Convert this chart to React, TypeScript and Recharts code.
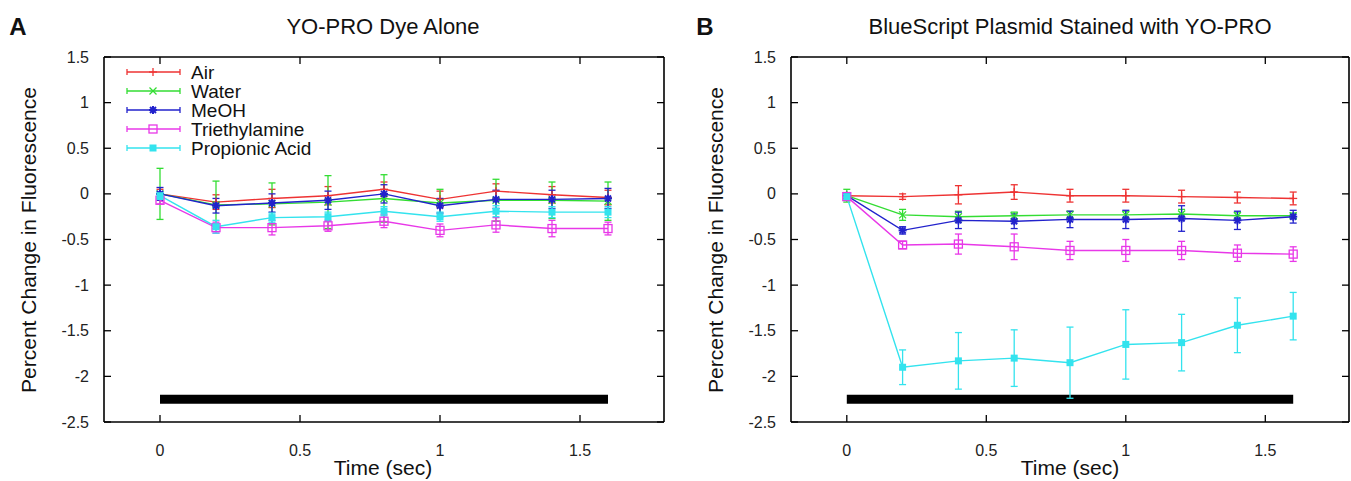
import React from "react";
import { LineChart, Line, XAxis, YAxis, ErrorBar, ReferenceArea } from "recharts";

const times = [0, 0.2, 0.4, 0.6, 0.8, 1.0, 1.2, 1.4, 1.6];
const seriesNames = ["Air", "Water", "MeOH", "Triethylamine", "Propionic Acid"];
const seriesColors = ["#ee3333", "#33dd33", "#2222cc", "#e838e8", "#33e3ee"];
const seriesMarkers = ["plus", "cross", "star", "openSquare", "square"];
const xTicks = [0, 0.5, 1, 1.5];
const yTicks = [-2.5, -2, -1.5, -1, -0.5, 0, 0.5, 1, 1.5];
const xDomain = [-0.2, 1.8];
const yDomain = [-2.5, 1.5];

// stimulus bar
const barStart = 0;
const barEnd = 1.6;
const barTop = -2.2;
const barBottom = -2.3;

// A: YO-PRO dye alone
const dyeAir = [0, -0.09, -0.05, -0.02, 0.05, -0.06, 0.03, -0.01, -0.04];
const dyeAirErr = [0.05, 0.08, 0.1, 0.1, 0.08, 0.09, 0.08, 0.09, 0.08];
const dyeWater = [0, -0.12, -0.11, -0.09, -0.05, -0.1, -0.07, -0.07, -0.08];
const dyeWaterErr = [0.28, 0.26, 0.23, 0.29, 0.26, 0.15, 0.23, 0.2, 0.21];
const dyeMeoh = [0, -0.13, -0.1, -0.07, 0, -0.13, -0.06, -0.06, -0.05];
const dyeMeohErr = [0.07, 0.08, 0.1, 0.1, 0.1, 0.08, 0.1, 0.1, 0.11];
const dyeTri = [-0.07, -0.37, -0.37, -0.35, -0.3, -0.4, -0.34, -0.38, -0.38];
const dyeTriErr = [0.04, 0.06, 0.08, 0.06, 0.07, 0.07, 0.08, 0.09, 0.07];
const dyeProp = [-0.02, -0.36, -0.26, -0.25, -0.19, -0.25, -0.19, -0.2, -0.2];
const dyePropErr = [0.04, 0.07, 0.05, 0.05, 0.05, 0.05, 0.06, 0.06, 0.06];

// B: BlueScript plasmid stained with YO-PRO
const plasAir = [-0.02, -0.03, -0.01, 0.02, -0.02, -0.02, -0.03, -0.04, -0.05];
const plasAirErr = [0.03, 0.03, 0.1, 0.08, 0.07, 0.07, 0.07, 0.06, 0.07];
const plasWater = [-0.02, -0.23, -0.25, -0.24, -0.23, -0.23, -0.22, -0.24, -0.24];
const plasWaterErr = [0.07, 0.06, 0.06, 0.04, 0.04, 0.04, 0.05, 0.04, 0.03];
const plasMeoh = [-0.02, -0.4, -0.29, -0.3, -0.28, -0.28, -0.27, -0.29, -0.25];
const plasMeohErr = [0.03, 0.04, 0.09, 0.08, 0.09, 0.1, 0.14, 0.1, 0.07];
const plasTri = [-0.03, -0.56, -0.55, -0.58, -0.62, -0.62, -0.62, -0.65, -0.66];
const plasTriErr = [0.03, 0.04, 0.11, 0.14, 0.1, 0.12, 0.1, 0.09, 0.08];
const plasProp = [-0.03, -1.9, -1.83, -1.8, -1.85, -1.65, -1.63, -1.44, -1.34];
const plasPropErr = [0.04, 0.19, 0.31, 0.31, 0.39, 0.38, 0.31, 0.3, 0.26];

const keys = ["air", "water", "meoh", "tri", "prop"];

function buildRows(vals: number[][], errs: number[][]) {
  return times.map((t, i) => {
    const row: any = { t };
    keys.forEach((k, s) => {
      row[k] = vals[s][i];
      row[k + "Err"] = errs[s][i];
    });
    return row;
  });
}

const dyeRows = buildRows(
  [dyeAir, dyeWater, dyeMeoh, dyeTri, dyeProp],
  [dyeAirErr, dyeWaterErr, dyeMeohErr, dyeTriErr, dyePropErr]
);
const plasRows = buildRows(
  [plasAir, plasWater, plasMeoh, plasTri, plasProp],
  [plasAirErr, plasWaterErr, plasMeohErr, plasTriErr, plasPropErr]
);

const FONT = '"Liberation Sans", Arial, Helvetica, sans-serif';
const CHART_H = 481;
const M_TOP = 57;
const M_BOTTOM = 29;
const M_LEFT = 44;
const Y_AXIS_W = 60;
const X_AXIS_H = 30;
const TICK = 7;

const panelA = { offset: 0, width: 680, marginRight: 16 };
const panelB = { offset: 687, width: 664, marginRight: 2 };

function Marker({ kind, cx, cy, color }: { kind: string; cx: number; cy: number; color: string }) {
  if (cx == null || cy == null) return null;
  const s = 4;
  if (kind === "plus")
    return (
      <g stroke={color} strokeWidth={1.3}>
        <line x1={cx - s} x2={cx + s} y1={cy} y2={cy} />
        <line x1={cx} x2={cx} y1={cy - s} y2={cy + s} />
      </g>
    );
  if (kind === "cross")
    return (
      <g stroke={color} strokeWidth={1.3}>
        <line x1={cx - 3.5} x2={cx + 3.5} y1={cy - 3.5} y2={cy + 3.5} />
        <line x1={cx - 3.5} x2={cx + 3.5} y1={cy + 3.5} y2={cy - 3.5} />
      </g>
    );
  if (kind === "star")
    return (
      <g stroke={color} strokeWidth={2}>
        <line x1={cx - s} x2={cx + s} y1={cy} y2={cy} />
        <line x1={cx} x2={cx} y1={cy - s} y2={cy + s} />
        <line x1={cx - 3} x2={cx + 3} y1={cy - 3} y2={cy + 3} />
        <line x1={cx - 3} x2={cx + 3} y1={cy + 3} y2={cy - 3} />
      </g>
    );
  if (kind === "openSquare")
    return <rect x={cx - 4} y={cy - 4} width={8} height={8} fill="none" stroke={color} strokeWidth={1.3} />;
  return <rect x={cx - 3.5} y={cy - 3.5} width={7} height={7} fill={color} />;
}

function LeftTick({ x, y, payload }: any) {
  return (
    <text x={x} y={y} dy="0.35em" textAnchor="end" fontSize={16} fontFamily={FONT} fill="#222">
      {payload.value}
    </text>
  );
}

function BottomTick({ x, y, payload }: any) {
  return (
    <text x={x} y={y + 28} dy="0.35em" textAnchor="middle" fontSize={16} fontFamily={FONT} fill="#222">
      {payload.value}
    </text>
  );
}

// gnuplot-style box with inward, mirrored ticks (drawn in the page overlay)
function Frame({ offset, width, marginRight }: { offset: number; width: number; marginRight: number }) {
  const left = offset + M_LEFT + Y_AXIS_W;
  const top = M_TOP;
  const w = width - M_LEFT - Y_AXIS_W - marginRight;
  const h = CHART_H - M_TOP - M_BOTTOM - X_AXIS_H;
  const px = (v: number) => left + ((v - xDomain[0]) / (xDomain[1] - xDomain[0])) * w;
  const py = (v: number) => top + ((yDomain[1] - v) / (yDomain[1] - yDomain[0])) * h;
  return (
    <g>
      <line x1={left} x2={left + w} y1={top} y2={top} stroke="#000" strokeWidth={1.6} />
      <line x1={left} x2={left + w} y1={top + h} y2={top + h} stroke="#000" strokeWidth={1.6} />
      <line x1={left} x2={left} y1={top} y2={top + h} stroke="#000" strokeWidth={1.6} />
      <line x1={left + w} x2={left + w} y1={top} y2={top + h} stroke="#000" strokeWidth={1.6} />
      {xTicks.map((t) => (
        <g key={"x" + t}>
          <line x1={px(t)} x2={px(t)} y1={top + h} y2={top + h - TICK} stroke="#000" strokeWidth={1.3} />
          <line x1={px(t)} x2={px(t)} y1={top} y2={top + TICK} stroke="#000" strokeWidth={1.3} />
        </g>
      ))}
      {yTicks.map((v) => (
        <g key={"y" + v}>
          <line x1={left} x2={left + TICK} y1={py(v)} y2={py(v)} stroke="#000" strokeWidth={1.3} />
          <line x1={left + w} x2={left + w - TICK} y1={py(v)} y2={py(v)} stroke="#000" strokeWidth={1.3} />
        </g>
      ))}
    </g>
  );
}

function Panel({ rows, width, marginRight }: { rows: any[]; width: number; marginRight: number }) {
  return (
    <LineChart
      width={width}
      height={CHART_H}
      data={rows}
      margin={{ top: M_TOP, right: marginRight, bottom: M_BOTTOM, left: M_LEFT }}
    >
      <XAxis
        dataKey="t"
        type="number"
        domain={xDomain}
        ticks={xTicks}
        height={X_AXIS_H}
        tickSize={0}
        tickMargin={0}
        axisLine={false}
        tickLine={false}
        tick={<BottomTick />}
        allowDataOverflow
      />
      <YAxis
        type="number"
        domain={yDomain}
        ticks={yTicks}
        width={Y_AXIS_W}
        tickSize={0}
        tickMargin={15}
        axisLine={false}
        tickLine={false}
        tick={<LeftTick />}
        allowDataOverflow
      />
      <ReferenceArea
        x1={barStart}
        x2={barEnd}
        y1={barTop}
        y2={barBottom}
        fill="#000"
        fillOpacity={1}
        stroke="none"
        ifOverflow="visible"
      />
      {keys.map((k, s) => (
        <Line
          key={k}
          dataKey={k}
          type="linear"
          stroke={seriesColors[s]}
          strokeWidth={1.4}
          isAnimationActive={false}
          dot={(p: any) => (
            <Marker key={k + p.index} kind={seriesMarkers[s]} cx={p.cx} cy={p.cy} color={seriesColors[s]} />
          )}
          activeDot={false}
        >
          <ErrorBar dataKey={k + "Err"} direction="y" width={3.5} stroke={seriesColors[s]} strokeWidth={1.3} />
        </Line>
      ))}
    </LineChart>
  );
}

function Label({ x, y, text, size, bold, rotate }: any) {
  return (
    <div
      style={{
        position: "absolute",
        left: x,
        top: y,
        transform: `translate(-50%, -50%)${rotate ? " rotate(-90deg)" : ""}`,
        whiteSpace: "nowrap",
        fontFamily: FONT,
        fontSize: size,
        fontWeight: bold ? "bold" : "normal",
        color: "#111",
        lineHeight: 1,
      }}
    >
      {text}
    </div>
  );
}

function Overlay() {
  return (
    <svg width={1351} height={481} style={{ position: "absolute", left: 0, top: 0, pointerEvents: "none" }}>
      <Frame {...panelA} />
      <Frame {...panelB} />
      {seriesNames.map((name, i) => {
        const y = 72 + i * 19;
        const c = seriesColors[i];
        return (
          <g key={name}>
            <line x1={127} x2={180} y1={y} y2={y} stroke={c} strokeWidth={1.4} />
            <line x1={127} x2={127} y1={y - 3} y2={y + 3} stroke={c} strokeWidth={1.3} />
            <line x1={180} x2={180} y1={y - 3} y2={y + 3} stroke={c} strokeWidth={1.3} />
            <Marker kind={seriesMarkers[i]} cx={153} cy={y} color={c} />
            <text x={191} y={y} dy="0.35em" fontSize={19} fontFamily={FONT} fill="#111">
              {name}
            </text>
          </g>
        );
      })}
    </svg>
  );
}

export default function App() {
  return (
    <div style={{ position: "absolute", left: 0, top: 0, width: 1351, height: 481, background: "#fff", overflow: "hidden" }}>
      <div style={{ position: "absolute", left: panelA.offset, top: 0 }}>
        <Panel rows={dyeRows} width={panelA.width} marginRight={panelA.marginRight} />
      </div>
      <div style={{ position: "absolute", left: panelB.offset, top: 0 }}>
        <Panel rows={plasRows} width={panelB.width} marginRight={panelB.marginRight} />
      </div>
      <Overlay />
      <Label x={18} y={27} text="A" size={24} bold />
      <Label x={705} y={27} text="B" size={24} bold />
      <Label x={383} y={27} text="YO-PRO Dye Alone" size={22} />
      <Label x={1070} y={27} text="BlueScript Plasmid Stained with YO-PRO" size={22} />
      <Label x={28} y={240} text="Percent Change in Fluorescence" size={21} rotate />
      <Label x={715} y={240} text="Percent Change in Fluorescence" size={21} rotate />
      <Label x={383} y={467} text="Time (sec)" size={21} />
      <Label x={1070} y={467} text="Time (sec)" size={21} />
    </div>
  );
}
